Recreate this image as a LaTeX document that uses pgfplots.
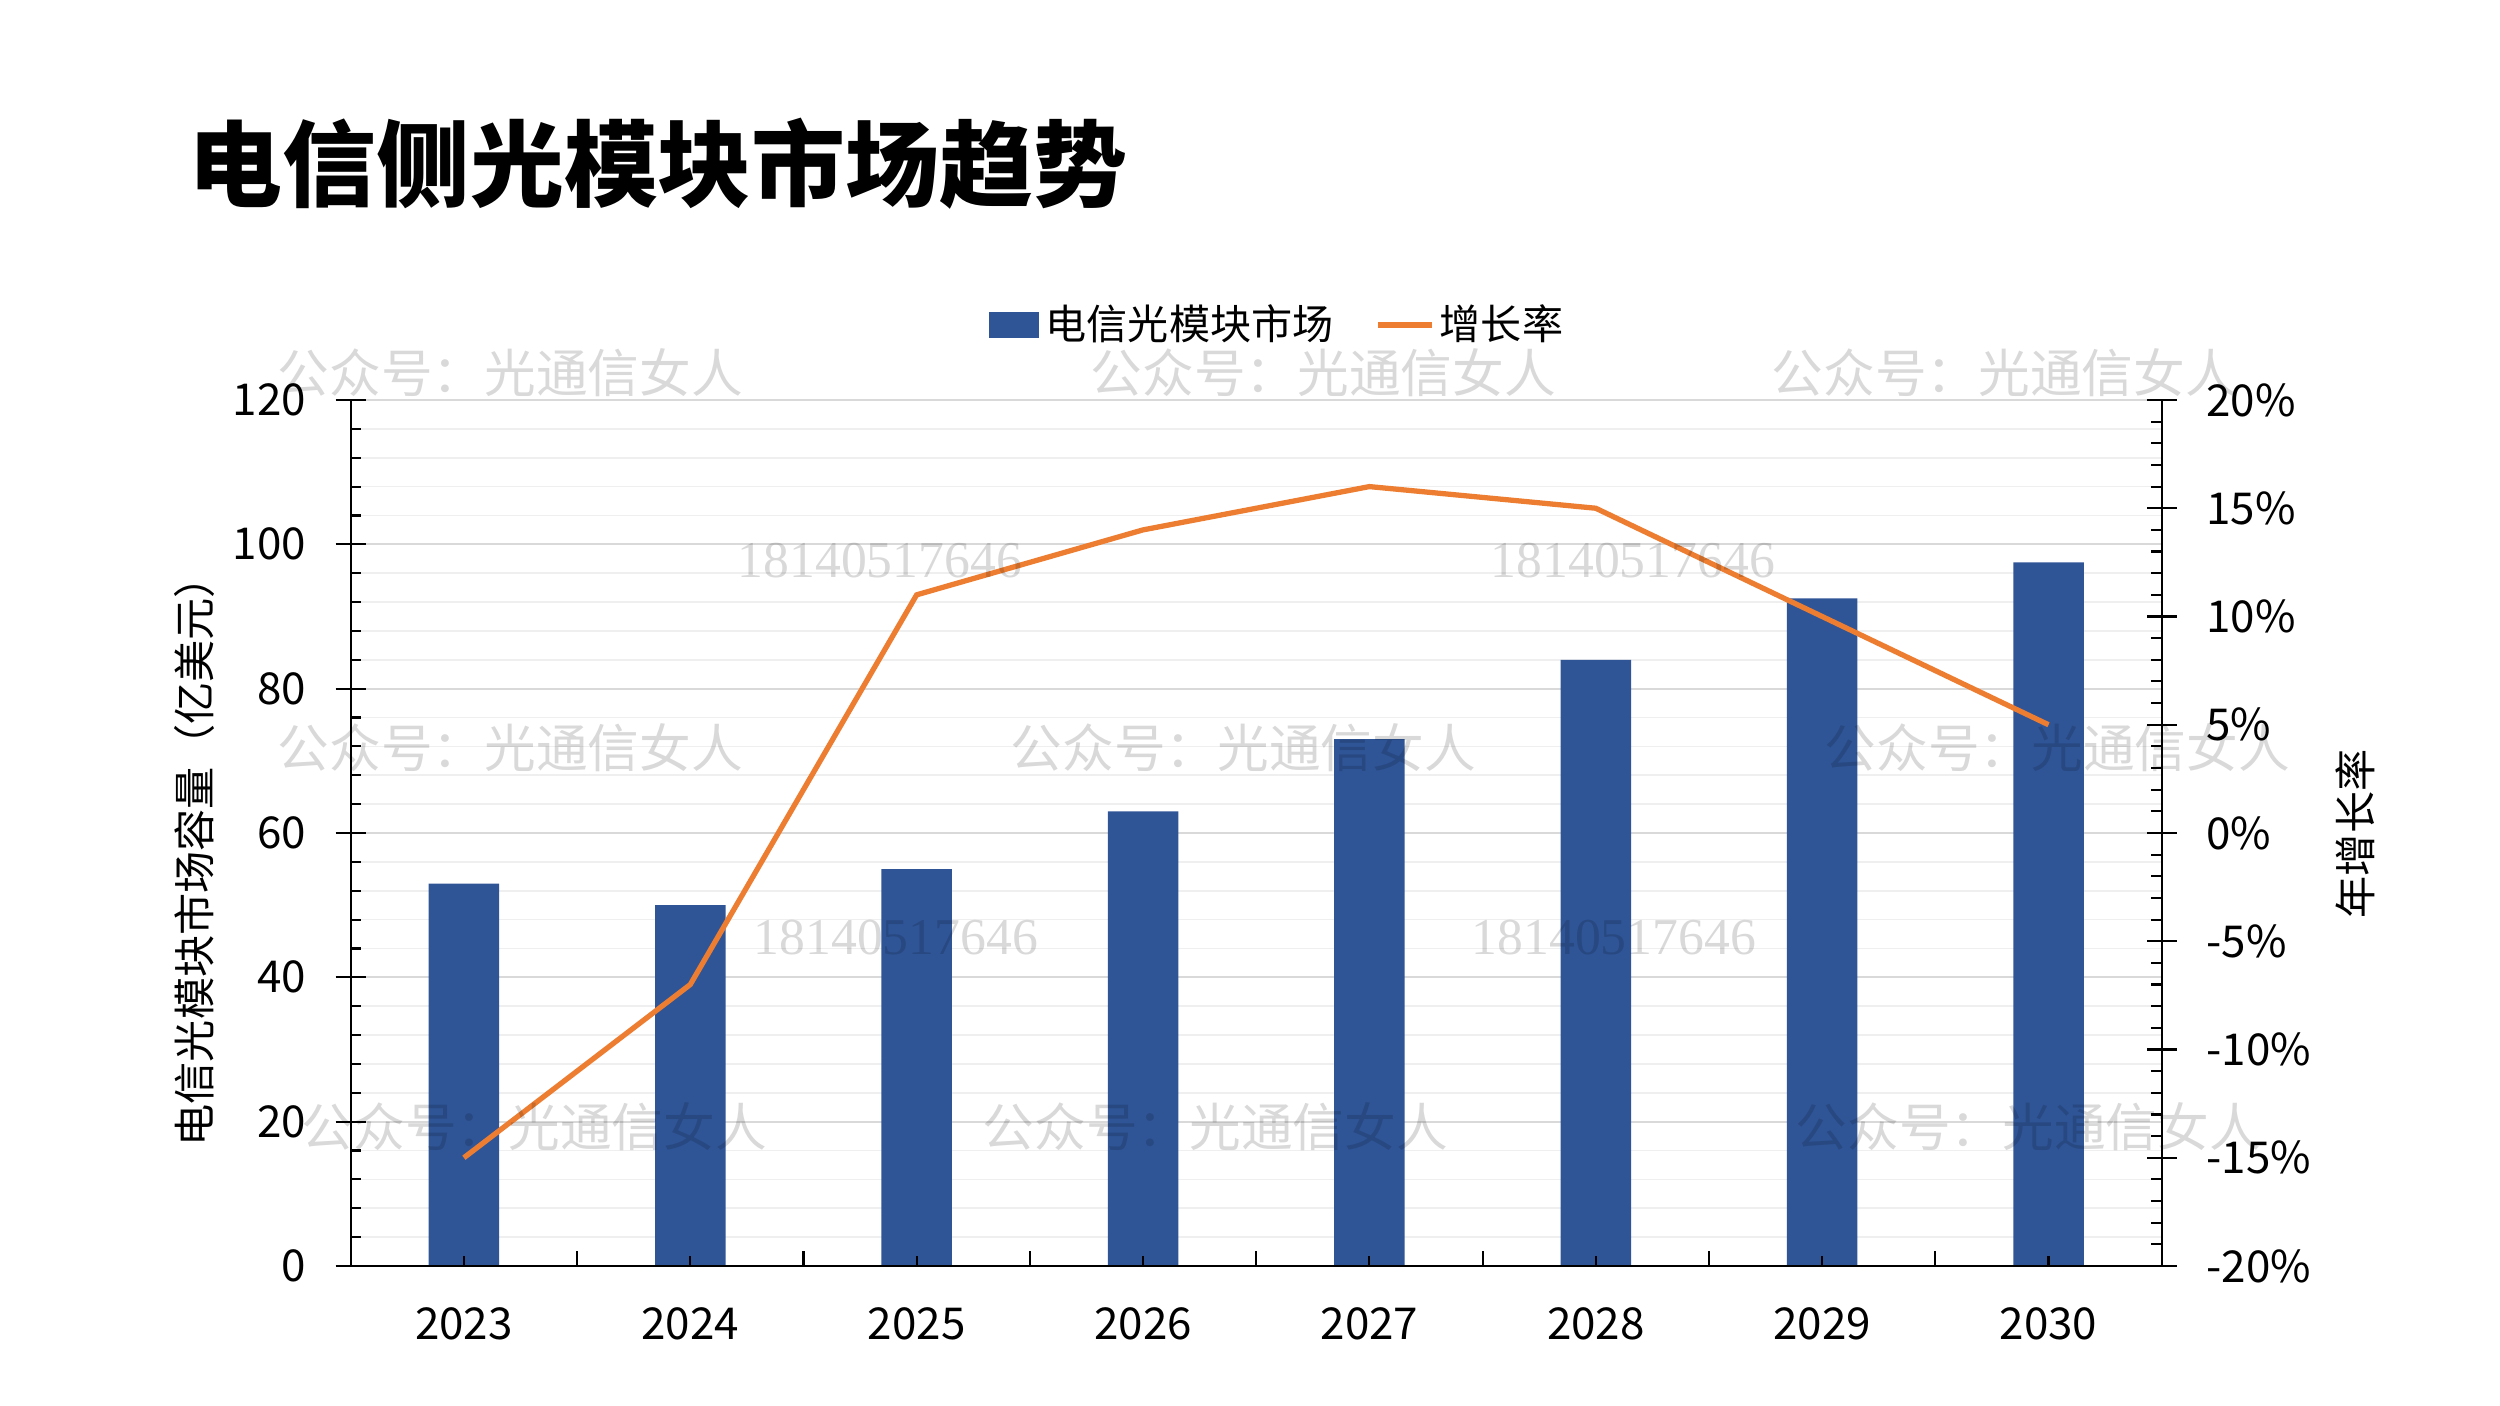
\documentclass[border=0pt]{standalone}
\usepackage{fontspec}
\setmainfont{Noto Sans CJK SC}
\newfontfamily\wmserif{Liberation Serif}
\usepackage{pgfplots}
\usepackage{pgfplotstable}
\pgfplotsset{compat=1.18}
\definecolor{barblue}{HTML}{2F5597}
\definecolor{lineorange}{HTML}{ED7D31}
\definecolor{gridmaj}{HTML}{D9D9D9}
\definecolor{gridmin}{HTML}{EFEFEF}

\pgfplotstableread{
x val
0 53
1 50
2 55
3 63
4 73
5 84
6 92.5
7 97.5
}\bardata
\pgfplotstableread{
x g
0 -15
1 -7
2 11
3 14
4 16
5 15
6 10
7 5
}\ratedata

\pgfplotsset{
  base/.style={scale only axis, width=181.1mm, height=86.6mm,
    at={(35.07mm,14.0mm)}, anchor=south west, xmin=-0.5, xmax=7.5,
    /pgf/number format/assume math mode=true,
    ticklabel style={font=\fontsize{12.5}{14}\selectfont},
    axis line style={line width=0.6pt, black},
    tick style={line width=0.6pt, black}},
}

\begin{document}
\begin{tikzpicture}
\useasboundingbox (0,0) rectangle (250mm,140.6mm);

% bars, grid and left axis
\begin{axis}[base, ymin=0, ymax=120, axis y line*=left, axis x line*=bottom,
  ytick={0,20,...,120}, yticklabels={0,20,40,60,80,100,120}, minor y tick num=4,
  ymajorgrids, yminorgrids,
  major grid style={gridmaj, line width=0.5pt},
  minor grid style={gridmin, line width=0.5pt},
  tick align=center, major tick length=3mm, minor tick length=1.07mm,
  minor tick style={xshift=0.535mm},
  xtick=\empty,
  yticklabel style={inner sep=0pt, xshift=-2.9mm},
  ylabel={电信光模块市场容量（亿美元）},
  ylabel style={at={(axis description cs:-0.0865,0.479)}, anchor=center, font=\fontsize{12}{14}\selectfont},
  ybar, bar width=7.05mm]
\addplot[fill=barblue, draw=none] table[x=x, y=val]{\bardata};
\end{axis}

% x axis ticks and labels
\begin{axis}[base, ymin=0, ymax=120, axis x line*=bottom, axis y line=none,
  xtick={0,...,7}, xticklabels={2023,2024,2025,2026,2027,2028,2029,2030},
  minor xtick={0.5,1.5,...,6.5},
  xticklabel style={yshift=-2.9mm},
  tick align=inside, major tick length=1mm, minor tick length=1.5mm, ytick=\empty]
\addplot[draw=none] coordinates {(0,0)};
\end{axis}

% right axis and growth line
\begin{axis}[base, ymin=-20, ymax=20, axis y line*=right, axis x line=none,
  ytick={-20,-15,...,20},
  yticklabels={-20\%,-15\%,-10\%,-5\%,0\%,5\%,10\%,15\%,20\%},
  minor y tick num=4,
  tick align=center, major tick length=3mm, minor tick length=1.07mm,
  minor tick style={xshift=-0.535mm},
  yticklabel style={inner sep=0pt, xshift=2.9mm},
  ylabel={年增长率},
  ylabel style={at={(axis description cs:1.1067,0.499)}, anchor=center, rotate=0, font=\fontsize{12}{14}\selectfont},
  legend columns=2,
  legend style={at={(axis description cs:0.5109,1.0866)}, anchor=center, draw=none, fill=none,
    font=\fontsize{11.7}{14}\selectfont, nodes={inner sep=0pt},
    /tikz/every even column/.append style={column sep=4.2mm}}]
\addlegendimage{legend image code/.code={\fill[barblue] (0cm,-0.125cm) rectangle (0.49cm,0.125cm); \path (0.555cm,0);}}
\addlegendentry{电信光模块市场}
\addplot[lineorange, line width=1.5pt, mark=none,
  legend image code/.code={\draw[lineorange, line width=1.5pt] (0cm,0cm) -- (0.54cm,0cm); \path (0.59cm,0);}]
  table[x=x, y=g]{\ratedata};
\addlegendentry{增长率}
\end{axis}

% title
\node[anchor=west, inner sep=0pt, font=\fontsize{26.7}{30}\selectfont\bfseries] at (18.8mm,124.2mm) {电信侧光模块市场趋势};

% watermarks
\begin{scope}[every node/.style={anchor=west, inner sep=0pt, text=black, text opacity=0.15, font=\fontsize{14.7}{16}\selectfont}]
\node at (27.7mm,103.3mm) {公众号：光通信女人};
\node at (109.0mm,103.3mm) {公众号：光通信女人};
\node at (177.1mm,103.3mm) {公众号：光通信女人};
\node at (27.7mm,65.8mm) {公众号：光通信女人};
\node at (101.0mm,65.8mm) {公众号：光通信女人};
\node at (182.4mm,65.8mm) {公众号：光通信女人};
\node at (30.1mm,27.9mm) {公众号：光通信女人};
\node at (98.2mm,27.9mm) {公众号：光通信女人};
\node at (179.5mm,27.9mm) {公众号：光通信女人};
\node[font=\fontsize{14.7}{16}\selectfont\wmserif] at (73.7mm,84.5mm) {18140517646};
\node[font=\fontsize{14.7}{16}\selectfont\wmserif] at (149.0mm,84.5mm) {18140517646};
\node[font=\fontsize{14.7}{16}\selectfont\wmserif] at (75.3mm,46.85mm) {18140517646};
\node[font=\fontsize{14.7}{16}\selectfont\wmserif] at (147.1mm,46.85mm) {18140517646};
\end{scope}
\end{tikzpicture}
\end{document}
